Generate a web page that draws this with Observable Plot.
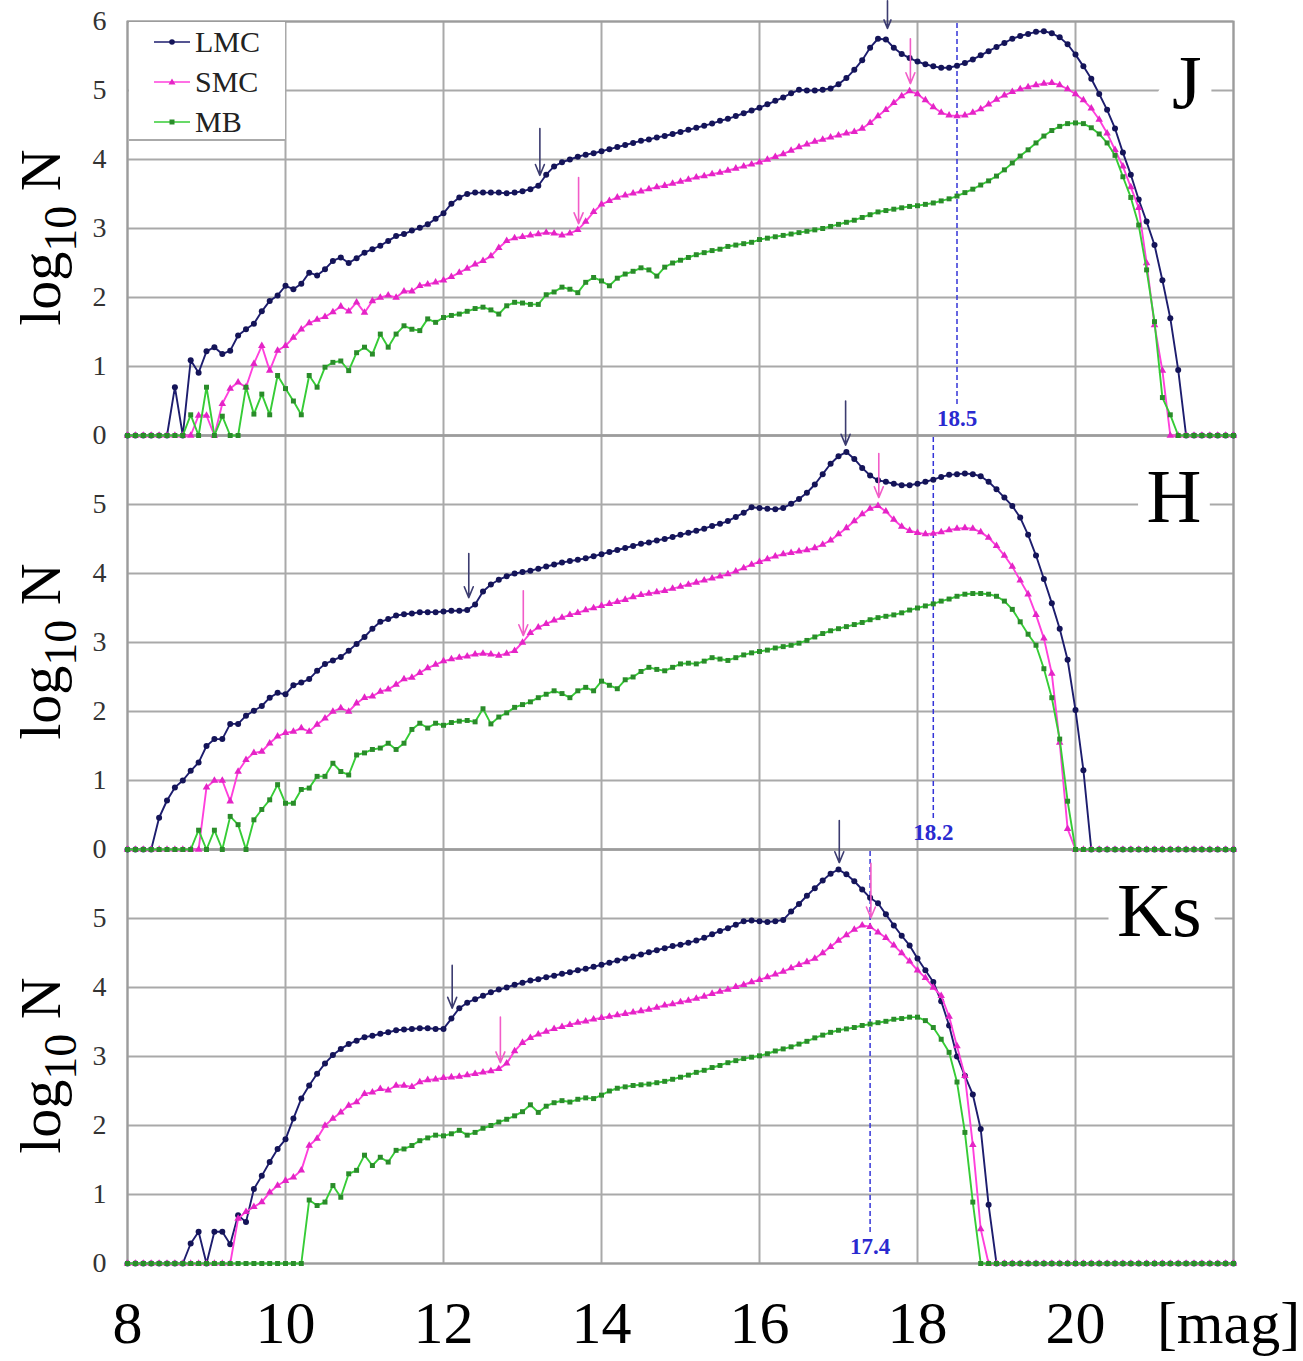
<!DOCTYPE html>
<html><head><meta charset="utf-8">
<script src="https://cdn.jsdelivr.net/npm/d3@7"></script>
<script src="https://cdn.jsdelivr.net/npm/@observablehq/plot@0.6"></script>
<style>
body{margin:0;background:#fff;}
#wrap{position:relative;width:1303px;height:1361px;overflow:hidden;background:#fff;}
.legend{position:absolute;left:129px;top:22px;width:156px;height:117px;background:#fff;border-bottom:2px solid #aaa;}
.item{position:absolute;left:24px;height:30px;display:flex;align-items:center;font-family:"Liberation Serif","Times New Roman",serif;font-size:30px;color:#222;}
.item svg{margin-right:2px;}
</style></head><body><div id="wrap"></div>
<script>
// ---- categories ----
const bands = ["J", "H", "Ks"];
const seriesNames = ["LMC", "SMC", "MB"];
const magStart = 8, magStep = 0.1;   // bins 8.0 ... 22.0
const xTicks = [8, 10, 12, 14, 16, 18, 20];
const xGrid = [8, 10, 12, 14, 16, 18, 20, 22];
const yTicks = [0, 1, 2, 3, 4, 5];
const yGrid = [0, 1, 2, 3, 4, 5, 6];

// ---- series values (log10 N per 0.1 mag bin, 8.0 .. 22.0) ----
const J_LMC = [
0,0,0,0,0,0,0.70,0,1.09,0.91,
1.22,1.28,1.18,1.23,1.45,1.54,1.62,1.80,1.95,2.03,
2.17,2.12,2.20,2.36,2.32,2.41,2.53,2.58,2.50,2.57,
2.65,2.70,2.75,2.82,2.89,2.92,2.97,3.01,3.06,3.14,
3.22,3.36,3.45,3.50,3.52,3.52,3.52,3.52,3.51,3.52,
3.54,3.57,3.62,3.78,3.90,3.96,4.00,4.04,4.07,4.09,
4.12,4.15,4.18,4.21,4.24,4.27,4.29,4.32,4.34,4.37,
4.40,4.43,4.46,4.49,4.52,4.56,4.59,4.63,4.67,4.71,
4.75,4.80,4.85,4.90,4.96,5.01,5.00,5.00,5.01,5.03,
5.09,5.18,5.30,5.44,5.62,5.75,5.74,5.62,5.53,5.47,
5.42,5.38,5.35,5.33,5.33,5.36,5.40,5.45,5.51,5.57,
5.63,5.69,5.75,5.79,5.82,5.85,5.86,5.83,5.77,5.67,
5.52,5.35,5.17,4.95,4.72,4.45,4.10,3.78,3.42,3.10,
2.76,2.25,1.70,0.95,0,0,0,0,0,0,
0];
const J_SMC = [
0,0,0,0,0,0,0,0,0,0.29,
0.29,0,0.46,0.68,0.77,0.70,1.04,1.30,0.94,1.23,
1.30,1.42,1.54,1.63,1.68,1.72,1.79,1.87,1.80,1.93,
1.78,1.95,2.00,2.03,2.00,2.09,2.09,2.17,2.19,2.22,
2.25,2.30,2.36,2.42,2.48,2.53,2.60,2.72,2.82,2.86,
2.88,2.90,2.92,2.94,2.93,2.90,2.93,2.98,3.10,3.24,
3.35,3.40,3.45,3.48,3.51,3.54,3.57,3.60,3.62,3.65,
3.68,3.71,3.74,3.76,3.79,3.81,3.84,3.87,3.90,3.93,
3.96,4.00,4.04,4.08,4.13,4.18,4.22,4.26,4.29,4.32,
4.35,4.38,4.40,4.45,4.53,4.63,4.72,4.82,4.92,4.99,
4.95,4.86,4.76,4.68,4.64,4.63,4.64,4.68,4.73,4.80,
4.87,4.93,4.98,5.02,5.05,5.08,5.10,5.11,5.08,5.02,
4.95,4.86,4.74,4.58,4.38,4.14,3.90,3.60,3.30,2.50,
1.60,0.94,0,0,0,0,0,0,0,0,
0];
const J_MB = [
0,0,0,0,0,0,0,0,0.30,0,
0.70,0,0.28,0,0,0.70,0.31,0.60,0.30,0.87,
0.68,0.50,0.30,0.87,0.70,0.99,1.06,1.08,0.94,1.20,
1.28,1.18,1.47,1.28,1.47,1.59,1.54,1.52,1.69,1.64,
1.71,1.74,1.76,1.80,1.84,1.86,1.82,1.76,1.88,1.93,
1.92,1.90,1.90,2.04,2.08,2.15,2.12,2.07,2.22,2.29,
2.24,2.17,2.28,2.34,2.38,2.43,2.40,2.31,2.44,2.50,
2.54,2.58,2.62,2.65,2.68,2.70,2.74,2.76,2.78,2.80,
2.84,2.86,2.88,2.90,2.92,2.94,2.96,2.98,3.00,3.03,
3.06,3.09,3.12,3.16,3.20,3.24,3.26,3.28,3.30,3.32,
3.33,3.35,3.37,3.40,3.43,3.47,3.52,3.57,3.63,3.69,
3.76,3.85,3.95,4.05,4.14,4.24,4.34,4.42,4.48,4.52,
4.53,4.52,4.46,4.37,4.24,4.06,3.75,3.45,3.05,2.40,
1.65,0.55,0.30,0,0,0,0,0,0,0,
0];
const H_LMC = [
0,0,0,0,0.46,0.71,0.90,1.00,1.14,1.26,
1.50,1.60,1.60,1.82,1.82,1.94,2.01,2.08,2.20,2.27,
2.25,2.38,2.42,2.47,2.59,2.69,2.74,2.79,2.88,2.98,
3.08,3.20,3.30,3.34,3.39,3.41,3.42,3.44,3.44,3.44,
3.45,3.46,3.46,3.47,3.55,3.74,3.84,3.91,3.96,4.00,
4.02,4.04,4.07,4.10,4.13,4.16,4.18,4.20,4.22,4.25,
4.28,4.31,4.34,4.37,4.40,4.43,4.45,4.48,4.50,4.53,
4.56,4.59,4.62,4.65,4.69,4.72,4.76,4.82,4.88,4.96,
4.95,4.94,4.93,4.95,5.01,5.08,5.17,5.29,5.44,5.59,
5.70,5.76,5.66,5.53,5.42,5.35,5.33,5.30,5.28,5.28,
5.30,5.33,5.36,5.40,5.43,5.44,5.45,5.44,5.41,5.33,
5.22,5.10,4.98,4.81,4.56,4.26,3.92,3.57,3.20,2.75,
2.02,1.15,0,0,0,0,0,0,0,0,
0,0,0,0,0,0,0,0,0,0,
0];
const H_SMC = [
0,0,0,0,0,0,0,0,0,0,
0.90,1.00,1.00,0.70,1.13,1.30,1.40,1.42,1.54,1.64,
1.69,1.71,1.76,1.71,1.81,1.90,2.00,2.05,2.00,2.12,
2.20,2.22,2.29,2.32,2.39,2.47,2.49,2.56,2.63,2.68,
2.73,2.76,2.78,2.80,2.83,2.84,2.83,2.81,2.84,2.88,
3.00,3.14,3.22,3.27,3.32,3.36,3.40,3.43,3.47,3.50,
3.53,3.56,3.59,3.62,3.66,3.69,3.71,3.73,3.75,3.78,
3.81,3.84,3.87,3.90,3.93,3.96,3.99,4.03,4.08,4.13,
4.17,4.21,4.25,4.28,4.30,4.32,4.34,4.37,4.42,4.48,
4.57,4.66,4.76,4.86,4.94,4.98,4.90,4.78,4.68,4.62,
4.59,4.57,4.58,4.60,4.63,4.65,4.66,4.65,4.60,4.52,
4.40,4.26,4.10,3.90,3.70,3.40,3.06,2.55,1.55,0.30,
0,0,0,0,0,0,0,0,0,0,
0,0,0,0,0,0,0,0,0,0,
0];
const H_MB = [
0,0,0,0,0,0,0,0,0,0.28,
0,0.28,0,0.48,0.36,0,0.43,0.58,0.72,0.94,
0.67,0.67,0.87,0.89,1.06,1.06,1.25,1.13,1.08,1.37,
1.40,1.45,1.47,1.54,1.45,1.54,1.74,1.83,1.76,1.83,
1.80,1.84,1.86,1.87,1.85,2.04,1.82,1.92,1.98,2.06,
2.10,2.14,2.20,2.25,2.30,2.26,2.20,2.30,2.35,2.30,
2.44,2.38,2.33,2.46,2.50,2.58,2.64,2.61,2.59,2.64,
2.69,2.70,2.69,2.73,2.78,2.76,2.74,2.78,2.82,2.85,
2.87,2.89,2.92,2.94,2.96,2.99,3.03,3.08,3.13,3.17,
3.20,3.23,3.26,3.29,3.33,3.36,3.38,3.40,3.43,3.47,
3.50,3.53,3.56,3.60,3.63,3.67,3.70,3.71,3.71,3.70,
3.67,3.60,3.48,3.30,3.12,2.96,2.62,2.20,1.60,0.70,
0,0,0,0,0,0,0,0,0,0,
0,0,0,0,0,0,0,0,0,0,
0];
const Ks_LMC = [
0,0,0,0,0,0,0,0,0.29,0.46,
0,0.46,0.46,0.28,0.70,0.60,1.08,1.27,1.47,1.66,
1.80,2.10,2.39,2.58,2.75,2.90,3.02,3.11,3.18,3.23,
3.28,3.30,3.33,3.35,3.38,3.39,3.40,3.41,3.41,3.40,
3.40,3.55,3.70,3.78,3.83,3.88,3.93,3.97,4.00,4.04,
4.07,4.10,4.12,4.15,4.17,4.20,4.22,4.25,4.27,4.30,
4.33,4.36,4.39,4.42,4.45,4.48,4.51,4.54,4.57,4.60,
4.62,4.65,4.68,4.72,4.77,4.82,4.86,4.91,4.96,4.97,
4.96,4.95,4.96,4.98,5.10,5.21,5.33,5.44,5.55,5.65,
5.71,5.64,5.54,5.42,5.30,5.22,5.06,4.90,4.75,4.61,
4.42,4.25,4.08,3.80,3.45,3.00,2.72,2.45,1.95,0.85,
0,0,0,0,0,0,0,0,0,0,
0,0,0,0,0,0,0,0,0,0,
0,0,0,0,0,0,0,0,0,0,
0];
const Ks_SMC = [
0,0,0,0,0,0,0,0,0,0,
0,0,0,0,0.65,0.75,0.82,0.89,1.03,1.13,
1.20,1.25,1.35,1.71,1.81,2.00,2.10,2.19,2.29,2.34,
2.46,2.48,2.53,2.51,2.58,2.58,2.56,2.63,2.66,2.67,
2.69,2.70,2.71,2.73,2.75,2.77,2.79,2.82,2.90,3.08,
3.20,3.27,3.32,3.36,3.40,3.43,3.46,3.49,3.51,3.54,
3.56,3.58,3.60,3.62,3.64,3.66,3.68,3.71,3.74,3.76,
3.79,3.81,3.84,3.87,3.91,3.94,3.97,4.01,4.04,4.08,
4.11,4.15,4.19,4.23,4.28,4.33,4.37,4.42,4.50,4.59,
4.68,4.76,4.84,4.90,4.88,4.80,4.72,4.61,4.50,4.38,
4.25,4.14,4.00,3.88,3.58,3.15,2.72,1.72,0.50,0,
0,0,0,0,0,0,0,0,0,0,
0,0,0,0,0,0,0,0,0,0,
0,0,0,0,0,0,0,0,0,0,
0];
const Ks_MB = [
0,0,0,0,0,0,0,0,0,0,
0,0,0,0,0,0,0,0,0,0,
0,0,0,0.92,0.84,0.89,1.13,0.96,1.30,1.35,
1.57,1.42,1.54,1.47,1.64,1.66,1.71,1.78,1.82,1.86,
1.85,1.88,1.93,1.86,1.90,1.96,2.00,2.05,2.09,2.14,
2.20,2.30,2.19,2.28,2.33,2.36,2.34,2.38,2.40,2.39,
2.44,2.50,2.54,2.56,2.58,2.59,2.60,2.62,2.64,2.67,
2.70,2.73,2.77,2.80,2.84,2.87,2.91,2.94,2.97,2.99,
3.01,3.04,3.08,3.11,3.14,3.18,3.22,3.27,3.31,3.35,
3.38,3.40,3.42,3.45,3.47,3.49,3.51,3.54,3.55,3.57,
3.57,3.52,3.42,3.25,3.06,2.63,1.90,0.89,0,0,
0,0,0,0,0,0,0,0,0,0,
0,0,0,0,0,0,0,0,0,0,
0,0,0,0,0,0,0,0,0,0,
0];

// ---- annotations: completeness limits and feature arrows ----
const limitBand = ["J", "H", "Ks"];
const limitMag = [18.5, 18.2, 17.4];
const arrowBand = ["J","J","J","J","H","H","H","H","Ks","Ks","Ks","Ks"];
const arrowSeries = ["LMC","SMC","LMC","SMC","LMC","SMC","LMC","SMC","LMC","SMC","LMC","SMC"];
const arrowMag = [13.22,13.71,17.62,17.91, 12.32,13.01,17.09,17.51, 12.11,12.72,17.01,17.41];
const arrowFrom = [4.45,3.74,6.30,5.75, 4.29,3.75,6.50,5.74, 4.32,3.57,6.42,5.80];
const arrowTo = [3.77,3.07,5.90,5.10, 3.65,3.10,5.86,5.10, 3.70,2.91,5.81,5.01];

// ---- build tables ----
const seriesByBand = {J: [J_LMC, J_SMC, J_MB], H: [H_LMC, H_SMC, H_MB], Ks: [Ks_LMC, Ks_SMC, Ks_MB]};
const rows = [];
for (const band of bands) {
  seriesByBand[band].forEach((arr, s) => arr.forEach((v, i) => rows.push({band, series: seriesNames[s], mag: +(magStart + i * magStep).toFixed(1), v})));
}
const limits = limitBand.map((band, i) => ({band, mag: limitMag[i]}));
const arrows = arrowBand.map((band, i) => ({band, series: arrowSeries[i], mag: arrowMag[i], from: arrowFrom[i], to: arrowTo[i]}));

const font = "'Liberation Serif', 'Times New Roman', serif";
const style = {
  LMC: {line: "#1d1d6e", mark: "#141458", symbol: "circle", r: 3.0, arrow: "#3c3c70"},
  SMC: {line: "#ff40dc", mark: "#e424c6", symbol: "triangle", r: 2.8, arrow: "#f25cc8"},
  MB:  {line: "#36cc36", mark: "#2a8c2a", symbol: "square", r: 2.8}
};

const seriesMarks = [];
for (const s of seriesNames) {
  const d = rows.filter(r => r.series === s);
  seriesMarks.push(Plot.line(d, {x: "mag", y: "v", fy: "band", stroke: style[s].line, strokeWidth: 1.9}));
  seriesMarks.push(Plot.dot(d, {x: "mag", y: "v", fy: "band", symbol: style[s].symbol, r: style[s].r, fill: style[s].mark}));
}

const chart = Plot.plot({
  width: 1303,
  height: 1361,
  marginLeft: 127,
  marginRight: 70,
  marginTop: 20,
  marginBottom: 98,
  x: {domain: [8, 22]},
  y: {domain: [0, 6]},
  fy: {domain: bands, padding: 0, axis: null},
  style: {background: "transparent", overflow: "visible", fontFamily: font},
  marks: [
    Plot.gridX(xGrid, {stroke: "#a9a9a9", strokeWidth: 2, strokeOpacity: 1}),
    Plot.gridY(yGrid, {stroke: "#a9a9a9", strokeWidth: 2, strokeOpacity: 1}),
    Plot.frame({stroke: "#9c9c9c", strokeWidth: 2}),
    Plot.ruleX(limits, {x: "mag", y1: 0.45, y2: 6, fy: "band", stroke: "#3434d8", strokeWidth: 1.5, strokeDasharray: "5,3"}),
    Plot.text(limits, {x: "mag", fy: "band", frameAnchor: "bottom", dy: -10, text: d => d.mag.toFixed(1), fill: "#2a2ad0", fontWeight: "bold", fontSize: 23, fontFamily: font}),
    ...seriesMarks,
    Plot.arrow(arrows, {x1: "mag", x2: "mag", y1: "from", y2: "to", fy: "band", stroke: d => style[d.series].arrow, strokeWidth: 1.6, headLength: 11, headAngle: 45}),
    Plot.axisY(yTicks, {tickSize: 0, tickPadding: 21, tickFormat: d => String(d), fontSize: 28, fontFamily: font, color: "#333", label: null}),
    Plot.text([{band: "J", v: 6}], {y: "v", fy: "band", frameAnchor: "left", text: d => String(d.v), dx: -21, textAnchor: "end", fontSize: 28, fontFamily: font, fill: "#333"}),
    Plot.axisX(xTicks, {anchor: "bottom", tickSize: 0, tickPadding: 37, tickFormat: d => String(d), fontSize: 60, fontFamily: font, color: "#000", label: null}),
    Plot.text(["[mag]"], {fy: () => "Ks", frameAnchor: "bottom-right", text: d => d, dx: -5, dy: 37, lineAnchor: "top", textAnchor: "middle", fontSize: 60, fontFamily: font, fill: "#000"}),
    Plot.text(bands, {fy: d => d, frameAnchor: "left", text: () => "log10 N", rotate: -90, dx: -86, dy: 9, textAnchor: "middle", fontSize: 58, fontFamily: font, fill: "#000"}),
    Plot.text(bands, {fy: d => d, frameAnchor: "top-right", text: d => d, dx: -32, dy: 33, textAnchor: "end", lineAnchor: "top", fontSize: 76, fontFamily: font, fill: "#000", stroke: "#fff", strokeWidth: 34, paintOrder: "stroke", strokeLinejoin: "round"})
  ]
});

// serif font for every label, subscript for the y label
d3.select(chart).selectAll("text").style("font-family", font);
d3.select(chart).selectAll("text").filter(function () { return this.textContent === "log10 N"; }).each(function () {
  const t = d3.select(this);
  t.text(null);
  t.append("tspan").text("log");
  t.append("tspan").attr("font-size", 46).attr("dy", 16).text("10");
  t.append("tspan").attr("dy", -16).text("\u00a0N");
});

const wrap = document.getElementById("wrap");
wrap.appendChild(chart);

// legend (inside the J panel, top-left)
const legend = document.createElement("div");
legend.className = "legend";
const legendTop = [5, 45, 85];
seriesNames.forEach((s, i) => {
  const item = document.createElement("div");
  item.className = "item";
  item.style.top = legendTop[i] + "px";
  const st = style[s];
  let marker;
  if (st.symbol === "circle") marker = `<circle cx="19" cy="10" r="2.8" fill="${st.mark}"/>`;
  else if (st.symbol === "triangle") marker = `<path d="M19,6.5 L22.5,12.5 L15.5,12.5 Z" fill="${st.mark}"/>`;
  else marker = `<rect x="16.5" y="7.5" width="5" height="5" fill="${st.mark}"/>`;
  item.innerHTML = `<svg width="40" height="20"><line x1="1" x2="37" y1="10" y2="10" stroke="${st.line}" stroke-width="1.6"/>${marker}</svg><span>${s}</span>`;
  legend.appendChild(item);
});
wrap.appendChild(legend);
</script></body></html>
